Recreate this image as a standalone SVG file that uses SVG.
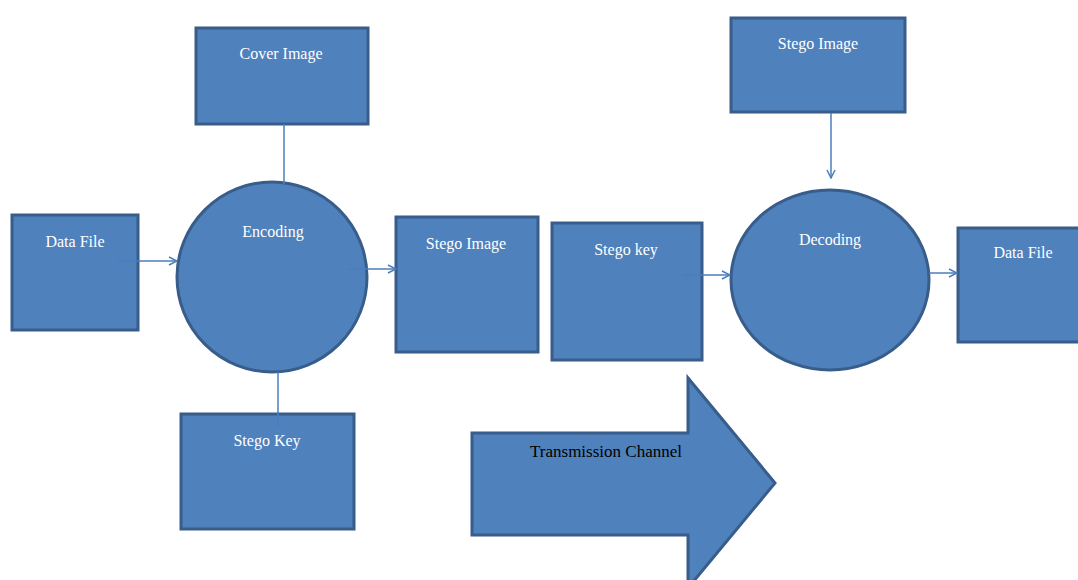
<svg xmlns="http://www.w3.org/2000/svg" width="1078" height="580" viewBox="0 0 1078 580">
<defs>
<style>
.n{fill:#4f81bd;stroke:#385d8a;stroke-width:3}
.t{font-family:"Liberation Serif",serif;font-size:16px;fill:#ffffff;text-anchor:middle}
.k{font-family:"Liberation Serif",serif;font-size:17px;fill:#000000;text-anchor:middle}
.c{stroke:#4a7ebb;stroke-width:1.5;fill:none}
</style>
<marker id="ah" viewBox="0 0 10 10" refX="9" refY="5" markerWidth="10" markerHeight="10" markerUnits="userSpaceOnUse" orient="auto">
<path d="M1,1 L9,5 L1,9" fill="none" stroke="#4a7ebb" stroke-width="1.5"/>
</marker>
</defs>
<rect width="1078" height="580" fill="#ffffff"/>
<g id="cover-image"><rect class="n" x="196" y="28" width="172" height="96"/><text class="t" x="281" y="59">Cover Image</text></g>
<g id="data-file-in"><rect class="n" x="12" y="215" width="126" height="115"/><text class="t" x="75" y="247">Data File</text></g>
<g id="encoding"><ellipse class="n" cx="272" cy="277" rx="95" ry="95"/><text class="t" x="273" y="237">Encoding</text></g>
<g id="stego-key"><rect class="n" x="181" y="414" width="173" height="115"/><text class="t" x="267" y="446">Stego Key</text></g>
<g id="stego-image-mid"><rect class="n" x="396" y="217" width="142" height="135"/><text class="t" x="466" y="249">Stego Image</text></g>
<g id="stego-key-mid"><rect class="n" x="552" y="223" width="150" height="137"/><text class="t" x="626" y="255">Stego key</text></g>
<g id="stego-image-top"><rect class="n" x="731" y="18" width="174" height="94"/><text class="t" x="818" y="49">Stego Image</text></g>
<g id="decoding"><ellipse class="n" cx="830" cy="280" rx="99" ry="90"/><text class="t" x="830" y="245">Decoding</text></g>
<g id="data-file-out"><rect class="n" x="958" y="228" width="122" height="114"/><text class="t" x="1023" y="258">Data File</text></g>
<g id="transmission-channel"><path class="n" d="M472,433 L688,433 L688,378 L775,483 L688,588 L688,535 L472,535 Z"/><text class="k" x="606" y="457">Transmission Channel</text></g>
<g id="connectors">
<line class="c" x1="117" y1="261" x2="177" y2="261" marker-end="url(#ah)"/>
<line class="c" x1="348" y1="269" x2="396" y2="269" marker-end="url(#ah)"/>
<line class="c" x1="284" y1="124" x2="284" y2="184"/>
<line class="c" x1="278" y1="372" x2="278" y2="427"/>
<line class="c" x1="683" y1="275" x2="730" y2="275" marker-end="url(#ah)"/>
<line class="c" x1="831" y1="113" x2="831" y2="178" marker-end="url(#ah)"/>
<line class="c" x1="929" y1="273" x2="957" y2="273" marker-end="url(#ah)"/>
</g>
</svg>
